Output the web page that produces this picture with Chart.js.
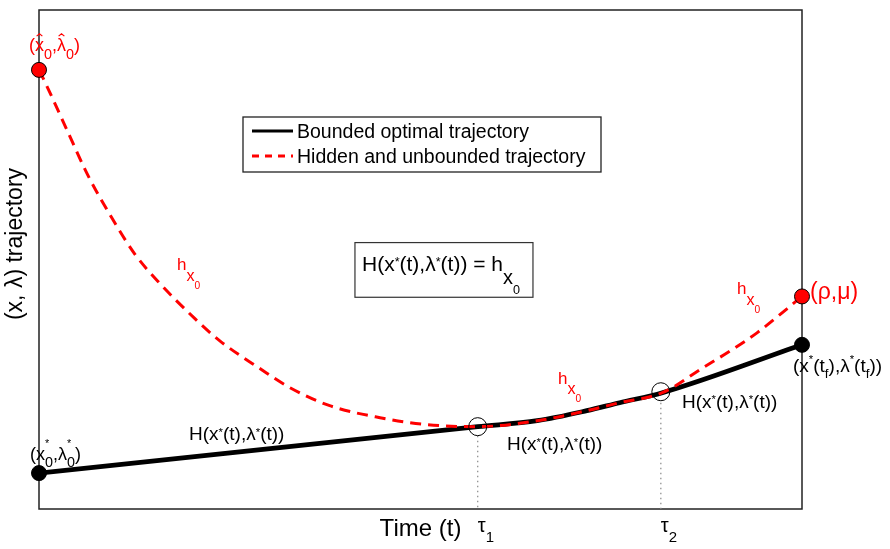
<!DOCTYPE html>
<html>
<head>
<meta charset="utf-8">
<script src="https://cdn.jsdelivr.net/npm/chart.js@4.4.0/dist/chart.umd.min.js"></script>
<style>
  body { margin: 0; background: #fff; }
  canvas { display: block; }
</style>
</head>
<body>
<canvas id="myChart" width="890" height="549"></canvas>
<script>
// values (time 0..10, trajectory 0..10)
const timeHidden = [0, 0.08, 0.38, 0.64, 0.96, 1.26, 1.56, 2.04, 2.37, 2.90, 3.29, 3.81, 4.47, 5.09, 5.75, 6.53, 7.18, 7.61, 8.17, 8.70, 9.06, 9.41, 10];
const hiddenTraj = [8.80, 8.55, 7.55, 6.69, 5.82, 5.10, 4.56, 3.82, 3.37, 2.81, 2.43, 2.07, 1.83, 1.69, 1.65, 1.77, 1.97, 2.13, 2.33, 2.83, 3.17, 3.53, 4.26];

const timeBounded = [0, 5.75, 6.53, 7.18, 7.61, 8.17, 10];
const boundedTraj = [0.72, 1.65, 1.77, 1.97, 2.13, 2.33, 3.29];

const tauTimes = [5.75, 8.15];
const tauValues = [1.65, 2.35];
const tauDropTop = [1.47, 2.13];
const tauLabels = ['1', '2'];

const FONT = '"Liberation Sans", Arial, Helvetica, sans-serif';

function pts(xs, ys) {
  return xs.map((x, i) => ({x: x, y: ys[i]}));
}

// rich text pieces
const n = t => ({t: t});
const sup = (t, dy) => ({t: t, s: 0.6, dy: dy === undefined ? -0.25 : dy});
const sub = (t, s, dy) => ({t: t, s: s || 0.75, dy: dy === undefined ? 0.35 : dy});
const hState = [n('H(x'), sup('*'), n('(t),λ'), sup('*'), n('(t))')];
const hx0 = [n('h'), {t: 'x', s: 0.95, dy: 0.6}, {t: '0', s: 0.6, dy: 1.1}];

const notes = [
  {x: -0.131, y: 9.18, size: 18, color: '#ff0000', parts: [n('('), {t: 'x', hat: true}, sub('0', 0.8, 0.45), n(','), {t: 'λ', hat: true}, sub('0', 0.8, 0.45), n(')')]},
  {x: -0.118, y: 0.98, size: 18, color: '#000', parts: [n('(x'), {t: '*', s: 0.6, dy: -0.75, keep: true}, sub('0', 0.8, 0.4), n(',λ'), {t: '*', s: 0.6, dy: -0.75, keep: true}, sub('0', 0.8, 0.4), n(')')]},
  {x: 1.966, y: 1.375, size: 19, color: '#000', parts: hState},
  {x: 6.134, y: 1.175, size: 19, color: '#000', parts: hState},
  {x: 8.427, y: 2.032, size: 19, color: '#000', parts: hState},
  {x: 1.809, y: 4.78, size: 17, color: '#ff0000', parts: hx0},
  {x: 6.802, y: 2.51, size: 17, color: '#ff0000', parts: hx0},
  {x: 9.148, y: 4.30, size: 17, color: '#ff0000', parts: hx0},
  {x: 10.105, y: 4.20, size: 23, color: '#ff0000', parts: [n('(ρ,μ)')]},
  {x: 9.882, y: 2.75, size: 19, color: '#000', parts: [n('(x'), sup('*', -0.45), n('(t'), sub('f', 0.7, 0.35), n('),λ'), sup('*', -0.45), n('(t'), sub('f', 0.7, 0.35), n('))')]},
  {x: 4.233, y: 4.76, size: 21, color: '#000', parts: [n('H(x'), sup('*'), n('(t),λ'), sup('*'), n('(t)) = h'), {t: 'x', s: 0.95, dy: 0.58}, {t: '0', s: 0.6, dy: 1.05}]}
];
const noteBox = {x0: 4.141, x1: 6.474, y0: 5.339, y1: 4.243};

function drawRich(ctx, x, y, size, color, parts) {
  let cx = x;
  ctx.fillStyle = color;
  ctx.strokeStyle = color;
  ctx.textAlign = 'left';
  ctx.textBaseline = 'alphabetic';
  parts.forEach(p => {
    const s = size * (p.s || 1);
    ctx.font = s + 'px ' + FONT;
    const by = y + size * (p.dy || 0);
    ctx.fillText(p.t, cx, by);
    const w = ctx.measureText(p.t).width;
    if (p.hat) {
      const mx = cx + w / 2, hy = by - size * 0.95;
      ctx.lineWidth = 1.2;
      ctx.beginPath();
      ctx.moveTo(mx - size * 0.16, hy + size * 0.13);
      ctx.lineTo(mx, hy);
      ctx.lineTo(mx + size * 0.16, hy + size * 0.13);
      ctx.stroke();
    }
    if (!p.keep) cx += w;
  });
}

const framePlugin = {
  id: 'frame',
  beforeDatasetsDraw(chart) {
    const ctx = chart.ctx, a = chart.chartArea;
    ctx.save();
    ctx.strokeStyle = '#222';
    ctx.lineWidth = 1.5;
    ctx.strokeRect(a.left, a.top, a.right - a.left, a.bottom - a.top);
    ctx.restore();
  },
  afterDraw(chart) {
    const ctx = chart.ctx, a = chart.chartArea;
    const xs = chart.scales.x, ys = chart.scales.y;
    ctx.save();

    // annotation box
    const bx0 = xs.getPixelForValue(noteBox.x0), bx1 = xs.getPixelForValue(noteBox.x1);
    const by0 = ys.getPixelForValue(noteBox.y0), by1 = ys.getPixelForValue(noteBox.y1);
    ctx.strokeStyle = '#333';
    ctx.lineWidth = 1.2;
    ctx.strokeRect(bx0, by0, bx1 - bx0, by1 - by0);

    notes.forEach(nt => {
      drawRich(ctx, xs.getPixelForValue(nt.x), ys.getPixelForValue(nt.y), nt.size, nt.color, nt.parts);
    });

    // tau tick labels
    tauTimes.forEach((t, i) => {
      drawRich(ctx, xs.getPixelForValue(t), a.bottom + 23, 20, '#000', [n('τ'), {t: tauLabels[i], s: 0.75, dy: 0.5}]);
    });

    // axis titles
    ctx.fillStyle = '#000';
    ctx.font = '24px ' + FONT;
    ctx.textAlign = 'center';
    ctx.textBaseline = 'alphabetic';
    ctx.fillText('Time (t)', (a.left + a.right) / 2, a.bottom + 27);
    ctx.translate(16, 244);
    ctx.rotate(-Math.PI / 2);
    ctx.font = '23px ' + FONT;
    ctx.textBaseline = 'middle';
    ctx.fillText('(x, λ) trajectory', 0, 0);
    ctx.setTransform(1, 0, 0, 1, 0, 0);

    // legend
    const lx = 243, ly = 117, lw = 358, lh = 55;
    ctx.fillStyle = '#fff';
    ctx.fillRect(lx, ly, lw, lh);
    ctx.strokeStyle = '#222';
    ctx.lineWidth = 1.3;
    ctx.strokeRect(lx, ly, lw, lh);
    const rows = chart.data.datasets.filter(d => d.inLegend);
    rows.forEach((d, i) => {
      const y = ly + 14 + i * 25;
      ctx.strokeStyle = d.borderColor;
      ctx.lineWidth = 3;
      ctx.setLineDash(d.borderDash && d.borderDash.length ? [7, 6] : []);
      ctx.beginPath();
      ctx.moveTo(lx + 9, y);
      ctx.lineTo(lx + 50, y);
      ctx.stroke();
      ctx.setLineDash([]);
      ctx.fillStyle = '#000';
      ctx.font = '19.5px ' + FONT;
      ctx.textAlign = 'left';
      ctx.textBaseline = 'alphabetic';
      ctx.fillText(d.label, lx + 54, y + 7);
    });
    ctx.restore();
  }
};

const datasets = [
  {
    label: 'Bounded optimal trajectory',
    inLegend: true,
    data: pts(timeBounded, boundedTraj),
    showLine: true,
    borderColor: '#000',
    borderWidth: 4.8,
    pointRadius: 0,
    cubicInterpolationMode: 'monotone',
    order: 3
  },
  {
    label: 'Hidden and unbounded trajectory',
    inLegend: true,
    data: pts(timeHidden, hiddenTraj),
    showLine: true,
    borderColor: '#ff0000',
    borderWidth: 3,
    borderDash: [11, 7],
    pointRadius: 0,
    cubicInterpolationMode: 'monotone',
    order: 2
  },
  {
    label: 'tau drop 1',
    data: [{x: tauTimes[0], y: tauDropTop[0]}, {x: tauTimes[0], y: 0}],
    showLine: true,
    borderColor: '#888',
    borderWidth: 1.2,
    borderDash: [1.5, 3.5],
    pointRadius: 0,
    order: 4
  },
  {
    label: 'tau drop 2',
    data: [{x: tauTimes[1], y: tauDropTop[1]}, {x: tauTimes[1], y: 0}],
    showLine: true,
    borderColor: '#888',
    borderWidth: 1.2,
    borderDash: [1.5, 3.5],
    pointRadius: 0,
    order: 4
  },
  {
    label: 'switch points',
    data: pts(tauTimes, tauValues),
    pointRadius: 9,
    pointBorderWidth: 1,
    pointBorderColor: '#000',
    pointBackgroundColor: 'rgba(0,0,0,0)',
    order: 1
  },
  {
    label: 'hidden ends',
    data: pts([timeHidden[0], timeHidden[timeHidden.length - 1]], [hiddenTraj[0], hiddenTraj[hiddenTraj.length - 1]]),
    pointRadius: 7.5,
    pointBorderWidth: 1,
    pointBorderColor: '#000',
    pointBackgroundColor: '#ff0000',
    clip: false,
    order: 0
  },
  {
    label: 'bounded ends',
    data: pts([timeBounded[0], timeBounded[timeBounded.length - 1]], [boundedTraj[0], boundedTraj[boundedTraj.length - 1]]),
    pointRadius: 7.5,
    pointBorderWidth: 1,
    pointBorderColor: '#000',
    pointBackgroundColor: '#000',
    clip: false,
    order: 0
  }
];

const config = {
  type: 'scatter',
  data: {datasets: datasets},
  options: {
    responsive: false,
    animation: false,
    devicePixelRatio: 1,
    events: [],
    layout: {padding: {left: 39, right: 88, top: 7, bottom: 40}},
    plugins: {legend: {display: false}, tooltip: {enabled: false}},
    scales: {
      x: {type: 'linear', min: 0, max: 10, display: false},
      y: {type: 'linear', min: 0, max: 10, display: false}
    }
  },
  plugins: [framePlugin]
};

var myChart = new Chart(document.getElementById('myChart'), config);
</script>
</body>
</html>
